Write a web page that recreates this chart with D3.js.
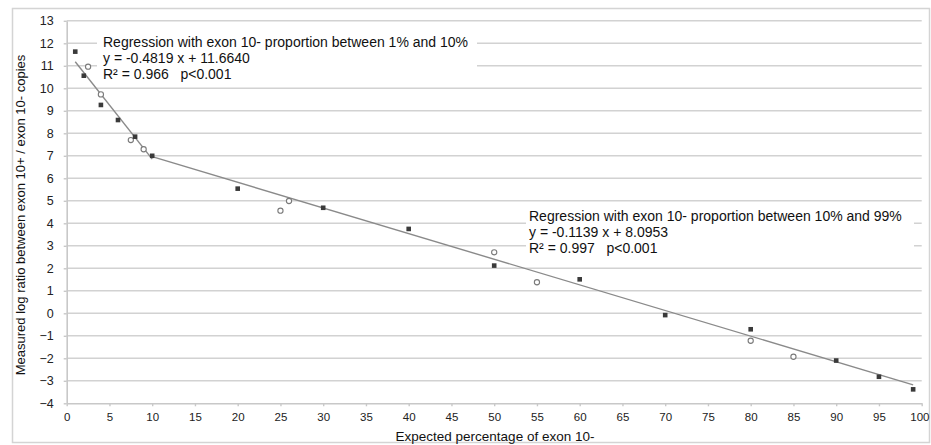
<!DOCTYPE html>
<html>
<head>
<meta charset="utf-8">
<script src="https://cdn.jsdelivr.net/npm/d3@7"></script>
<style>
  html, body { margin: 0; padding: 0; background: #fff; }
  svg { display: block; font-family: "Liberation Sans", Arial, sans-serif; }
</style>
</head>
<body>
<svg id="chart" width="931" height="445"></svg>
<script>
// ---- data ----
const xTicks = [0,5,10,15,20,25,30,35,40,45,50,55,60,65,70,75,80,85,90,95,100];
const yTicks = [-4,-3,-2,-1,0,1,2,3,4,5,6,7,8,9,10,11,12,13];

// filled squares
const squareX = [1, 2, 4, 6, 8, 10, 20, 30, 40, 50, 60, 70, 80, 90, 95, 99];
const squareY = [11.63, 10.56, 9.26, 8.59, 7.85, 7.0, 5.54, 4.69, 3.75, 2.12, 1.51, -0.08, -0.71, -2.1, -2.82, -3.38];

// open circles
const circleX = [2.5, 4, 7.5, 9, 25, 26, 50, 55, 80, 85];
const circleY = [10.96, 9.73, 7.7, 7.29, 4.56, 4.99, 2.71, 1.38, -1.22, -1.93];

// regression line endpoints
const trend1X = [1, 10];
const trend1Y = [11.18, 6.85];
const trend2X = [10, 99];
const trend2Y = [6.96, -3.18];

const note1 = ["Regression with exon 10- proportion between 1% and 10%",
               "y = -0.4819 x + 11.6640",
               "R\u00B2 = 0.966   p<0.001"];
const note2 = ["Regression with exon 10- proportion between 10% and 99%",
               "y = -0.1139 x + 8.0953",
               "R\u00B2 = 0.997   p<0.001"];

const xTitle = "Expected percentage of exon 10-";
const yTitle = "Measured log ratio between exon 10+ / exon 10- copies";

// ---- layout ----
const svg = d3.select("#chart");
const pLeft = 66.7, pRight = 921.7, pTop = 20.8, pBottom = 403.3;

const x = d3.scaleLinear().domain([0, 100]).range([pLeft, pRight]);
const y = d3.scaleLinear().domain([-4, 13]).range([pBottom, pTop]);

// outer frame
svg.append("rect")
  .attr("x", 12.5).attr("y", 8.5).attr("width", 917).attr("height", 434)
  .attr("fill", "none").attr("stroke", "#d4d4d4").attr("stroke-width", 1.5);

// gridlines
svg.append("g")
  .selectAll("line").data(yTicks.filter(d => d !== -4)).join("line")
  .attr("x1", pLeft).attr("x2", pRight)
  .attr("y1", d => y(d)).attr("y2", d => y(d))
  .attr("stroke", "#d2d2d2").attr("stroke-width", 1.6);

// y axis
const yAxis = svg.append("g").attr("transform", `translate(${pLeft},0)`)
  .call(d3.axisLeft(y).tickValues(yTicks).tickSize(3).tickSizeOuter(0).tickPadding(10));
yAxis.select(".domain").attr("stroke", "#c8c8c8").attr("stroke-width", 1.6);
yAxis.selectAll(".tick line").attr("stroke", "#c8c8c8").attr("stroke-width", 1.4);
yAxis.selectAll("text").attr("fill", "#222").attr("font-size", 12.5);

// x axis
const xAxis = svg.append("g").attr("transform", `translate(0,${pBottom})`)
  .call(d3.axisBottom(x).tickValues(xTicks).tickSize(3).tickSizeOuter(0).tickPadding(7));
xAxis.select(".domain").attr("stroke", "#c8c8c8").attr("stroke-width", 1.6);
xAxis.selectAll(".tick line").attr("stroke", "#c8c8c8").attr("stroke-width", 1.4);
xAxis.selectAll("text").attr("fill", "#222").attr("font-size", 11.5);
// keep the last label inside the picture
xAxis.selectAll(".tick text").filter(d => d === 100).attr("text-anchor", "end").attr("x", 929 - x(100));

// annotation boxes (white backgrounds)
svg.append("rect").attr("x", 97).attr("y", 32).attr("width", 380).attr("height", 50).attr("fill", "#fff");
svg.append("rect").attr("x", 526).attr("y", 207).attr("width", 388).attr("height", 51).attr("fill", "#fff");

// regression lines
const line = d3.line().x(d => x(d[0])).y(d => y(d[1]));
[[trend1X, trend1Y], [trend2X, trend2Y]].forEach(([xs, ys]) => {
  svg.append("path")
    .datum(xs.map((v, i) => [v, ys[i]]))
    .attr("d", line)
    .attr("fill", "none").attr("stroke", "#8a8a8a").attr("stroke-width", 1.4);
});

// open circles
svg.append("g").selectAll("circle")
  .data(circleX.map((v, i) => [v, circleY[i]])).join("circle")
  .attr("cx", d => x(d[0])).attr("cy", d => y(d[1])).attr("r", 2.6)
  .attr("fill", "#fff").attr("stroke", "#7a7a7a").attr("stroke-width", 1.1);

// filled squares
svg.append("g").selectAll("rect")
  .data(squareX.map((v, i) => [v, squareY[i]])).join("rect")
  .attr("x", d => x(d[0]) - 2.3).attr("y", d => y(d[1]) - 2.3)
  .attr("width", 4.6).attr("height", 4.6)
  .attr("fill", "#3a3a3a");

// annotation texts
function note(lines, x0, y0) {
  const g = svg.append("g");
  lines.forEach((t, i) => {
    g.append("text")
      .attr("x", x0).attr("y", y0 + i * 16)
      .attr("font-size", 14).attr("fill", "#111")
      .style("white-space", "pre")
      .text(t);
  });
}
note(note1, 103, 46.5);
note(note2, 529, 221);

// axis titles
svg.append("text")
  .attr("x", 495).attr("y", 441)
  .attr("text-anchor", "middle").attr("font-size", 13.5).attr("fill", "#111")
  .text(xTitle);

svg.append("text")
  .attr("transform", "translate(25,215) rotate(-90)")
  .attr("text-anchor", "middle").attr("font-size", 13).attr("fill", "#111")
  .text(yTitle);
</script>
</body>
</html>
